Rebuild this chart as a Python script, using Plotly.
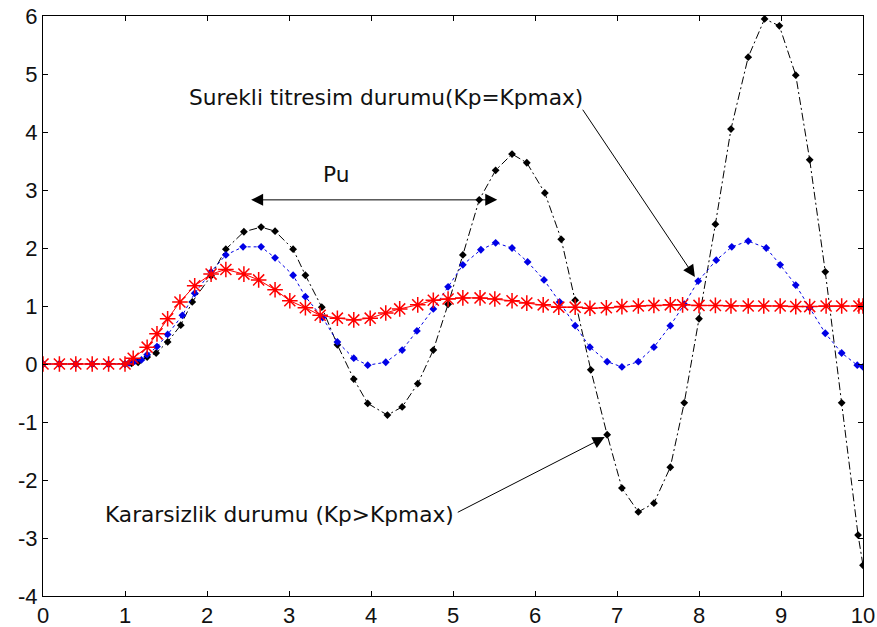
import plotly.graph_objects as go

# Stable response (Kp < Kpmax): red solid line with asterisks
t_red = [0, 0.2, 0.4, 0.6, 0.8, 1.0, 1.1, 1.27, 1.39, 1.52, 1.67, 1.85, 2.05, 2.23, 2.45,
         2.63, 2.83, 3.01, 3.2, 3.38, 3.59, 3.79, 3.99, 4.18, 4.35, 4.57, 4.76, 4.94, 5.12,
         5.33, 5.51, 5.72, 5.90, 6.10, 6.29, 6.49, 6.67, 6.87, 7.06, 7.26, 7.45, 7.65, 7.80,
         8.0, 8.2, 8.39, 8.6, 8.79, 8.99, 9.18, 9.35, 9.55, 9.74, 9.95, 10.0]
y_red = [0, 0, 0, 0, 0, 0, 0.1, 0.29, 0.52, 0.78, 1.07, 1.35, 1.55, 1.63, 1.55,
         1.45, 1.28, 1.09, 0.97, 0.84, 0.79, 0.76, 0.79, 0.88, 0.95, 1.02, 1.10, 1.12, 1.14,
         1.14, 1.12, 1.09, 1.05, 1.02, 0.98, 0.98, 0.96, 0.97, 0.99, 1.0, 1.01, 1.02, 1.02,
         1.01, 1.01, 1.0, 1.0, 1.0, 1.0, 0.99, 0.99, 1.0, 1.0, 1.0, 1.0]

# Sustained oscillation (Kp = Kpmax): blue dotted line
t_blue = [0, 0.2, 0.4, 0.6, 0.8, 1.0, 1.05, 1.12, 1.2, 1.27, 1.39, 1.52, 1.7, 1.85, 2.05,
          2.23, 2.44, 2.66, 2.83, 3.05, 3.2, 3.41, 3.59, 3.79, 3.96, 4.18, 4.38, 4.56, 4.76,
          4.94, 5.12, 5.34, 5.52, 5.72, 5.91, 6.11, 6.30, 6.49, 6.67, 6.88, 7.06, 7.26, 7.45,
          7.65, 7.82, 7.99, 8.21, 8.40, 8.60, 8.82, 8.99, 9.18, 9.35, 9.54, 9.74, 9.93, 10.0]
y_blue = [0, 0, 0, 0, 0, 0, 0.02, 0.05, 0.07, 0.16, 0.30, 0.51, 0.84, 1.22, 1.59,
          1.88, 2.02, 2.02, 1.83, 1.53, 1.16, 0.80, 0.38, 0.10, -0.02, 0.03, 0.24, 0.57, 0.95,
          1.33, 1.71, 1.97, 2.09, 2.0, 1.76, 1.45, 1.07, 0.66, 0.29, 0.04, -0.05, 0.04, 0.29,
          0.66, 1.03, 1.43, 1.79, 2.02, 2.12, 2.0, 1.71, 1.36, 0.97, 0.53, 0.19, -0.02, -0.05]

# Unstable response (Kp > Kpmax): black dash-dot line
t_black = [0, 0.2, 0.4, 0.6, 0.8, 1.0, 1.08, 1.16, 1.27, 1.38, 1.52, 1.68, 1.82, 2.05, 2.23,
           2.45, 2.66, 2.83, 3.05, 3.2, 3.4, 3.59, 3.79, 3.96, 4.2, 4.38, 4.57, 4.76, 4.94,
           5.12, 5.32, 5.52, 5.72, 5.90, 6.12, 6.32, 6.49, 6.68, 6.88, 7.06, 7.26, 7.45, 7.65,
           7.82, 8.0, 8.2, 8.39, 8.6, 8.80, 8.98, 9.18, 9.35, 9.54, 9.74, 9.94, 10.0]
y_black = [0, 0, 0, 0, 0, 0, 0.01, 0.03, 0.12, 0.19, 0.38, 0.67, 1.07, 1.52, 1.98,
           2.28, 2.36, 2.29, 1.98, 1.53, 0.98, 0.33, -0.26, -0.68, -0.88, -0.74, -0.34, 0.24, 1.03,
           1.88, 2.83, 3.34, 3.62, 3.47, 2.95, 2.15, 1.10, -0.10, -1.22, -2.14, -2.55, -2.40, -1.78,
           -0.67, 0.78, 2.41, 4.05, 5.29, 5.95, 5.83, 4.98, 3.52, 1.59, -0.67, -2.95, -3.47]

x_ticks = list(range(0, 11))
y_ticks = list(range(-4, 7))

TEXT_FONT = "DejaVu Sans"
TICK_FONT = "Liberation Sans"

fig = go.Figure()
fig.add_trace(go.Scatter(
    x=t_black, y=y_black, mode="lines+markers",
    line=dict(color="black", width=1, dash="8px,3px,2px,3px"),
    marker=dict(symbol="diamond", size=6, color="black"),
))
fig.add_trace(go.Scatter(
    x=t_blue, y=y_blue, mode="lines+markers",
    line=dict(color="#0000e6", width=1, dash="dot"),
    marker=dict(symbol="diamond", size=6, color="#0000e6"),
))
fig.add_trace(go.Scatter(
    x=t_red, y=y_red, mode="lines+markers",
    line=dict(color="#ff0000", width=1),
    marker=dict(symbol="asterisk-open", size=13, line=dict(color="#ff0000", width=1.5)),
))

txt_font = dict(family=TEXT_FONT, size=21.7, color="#111111")
annotations = [
    dict(x=4.18, y=4.6, text="Surekli titresim durumu(Kp=Kpmax)", showarrow=False, font=txt_font),
    dict(x=3.57, y=3.26, text="Pu", showarrow=False, font=txt_font),
    dict(x=2.88, y=-2.6, text="Kararsizlik durumu (Kp>Kpmax)", showarrow=False, font=txt_font),
    # arrows
    dict(x=7.95, y=1.5, ax=6.57, ay=4.41, text="", showarrow=True),
    dict(x=5.54, y=2.83, ax=2.52, ay=2.83, text="", showarrow=True, arrowside="end+start"),
    dict(x=6.85, y=-1.26, ax=5.04, ay=-2.57, text="", showarrow=True),
]
for a in annotations:
    a.update(xref="x", yref="y")
    if a.get("showarrow"):
        a.update(axref="x", ayref="y", arrowhead=2, arrowsize=2.4, arrowwidth=1,
                 arrowcolor="black", standoff=0, startstandoff=0)
fig.update_layout(annotations=annotations)

axis_common = dict(
    showgrid=False, zeroline=False, showline=True, linecolor="black", linewidth=1,
    mirror="ticks", ticks="inside", ticklen=5, tickcolor="black", automargin=False,
    tickfont=dict(family=TICK_FONT, size=22, color="#111111"),
)
fig.update_xaxes(range=[0, 10], tickvals=x_ticks, ticktext=[str(v) for v in x_ticks], **axis_common)
fig.update_yaxes(range=[-4, 6], tickvals=y_ticks, ticktext=[str(v) for v in y_ticks], **axis_common)

fig.update_layout(
    width=877, height=627,
    margin=dict(l=43, r=14, t=16, b=31),
    plot_bgcolor="white", paper_bgcolor="white",
    showlegend=False,
)

fig.write_html("out.html")
